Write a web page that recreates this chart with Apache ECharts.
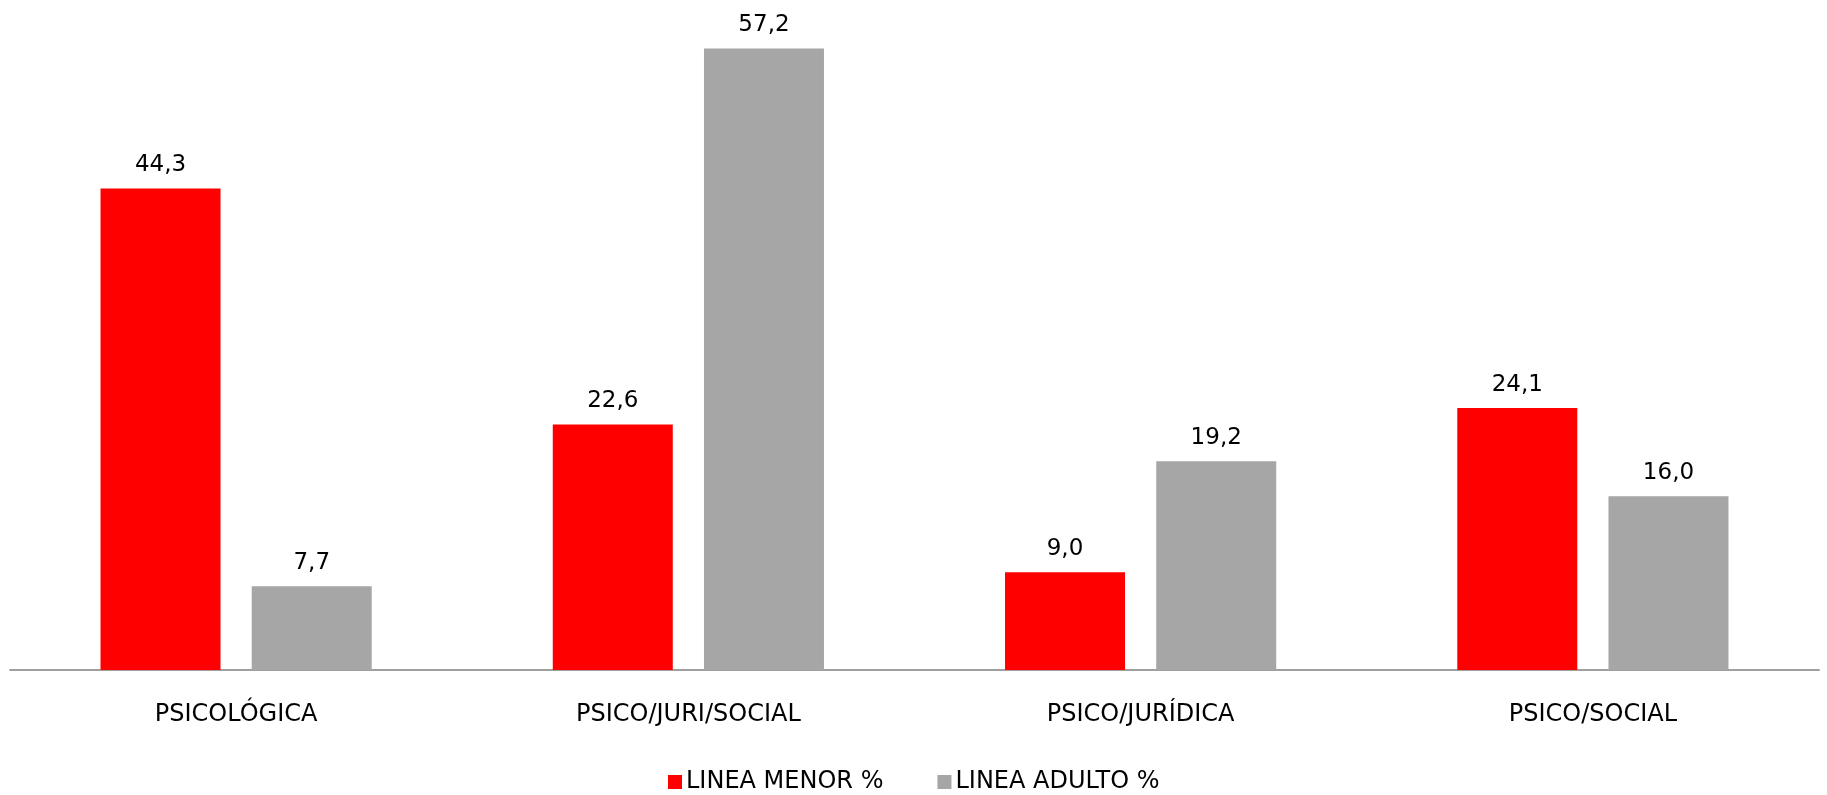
<!DOCTYPE html>
<html>
<head>
<meta charset="utf-8">
<script src="https://cdn.jsdelivr.net/npm/echarts@6/dist/echarts.min.js"></script>
<style>
html,body{margin:0;padding:0;background:#fff;}
#chart{width:1827px;height:795px;}
</style>
</head>
<body>
<div id="chart"></div>
<script>
const categories = ['PSICOLÓGICA', 'PSICO/JURI/SOCIAL', 'PSICO/JURÍDICA', 'PSICO/SOCIAL'];
const seriesNames = ['LINEA MENOR %', 'LINEA ADULTO %'];
const menorValues = [44.3, 22.6, 9.0, 24.1];
const adultoValues = [7.7, 57.2, 19.2, 16.0];

const FONT = 'DejaVu Sans';
const fmt = p => p.value.toFixed(1).replace('.', ',');

const chart = echarts.init(document.getElementById('chart'));
chart.setOption({
  animation: false,
  backgroundColor: '#ffffff',
  textStyle: { fontFamily: FONT },
  grid: { left: 10, right: 8, top: 18, bottom: 125, containLabel: false },
  legend: {
    bottom: 1,
    left: 668,
    padding: 0,
    itemWidth: 14,
    itemHeight: 14,
    itemGap: 54,
    icon: 'rect',
    textStyle: { fontFamily: FONT, fontSize: 24, color: '#000', padding: [0, 0, 0, -1] },
    data: seriesNames
  },
  xAxis: {
    type: 'category',
    data: categories,
    axisLine: { lineStyle: { color: '#a0a0a0', width: 2 } },
    axisTick: { show: false },
    axisLabel: { fontFamily: FONT, fontSize: 24, color: '#000', margin: 33 }
  },
  yAxis: {
    type: 'value',
    min: 0, max: 60, interval: 10,
    show: false,
    splitLine: { show: false }
  },
  series: [
    {
      name: seriesNames[0], type: 'bar', data: menorValues,
      barWidth: 120, barGap: '26%', barCategoryGap: '40%',
      itemStyle: { color: '#ff0000' },
      label: { show: true, position: 'top', distance: 12, formatter: fmt,
               fontFamily: FONT, fontSize: 23, color: '#000' }
    },
    {
      name: seriesNames[1], type: 'bar', data: adultoValues,
      barWidth: 120, barGap: '26%',
      itemStyle: { color: '#a6a6a6' },
      label: { show: true, position: 'top', distance: 12, formatter: fmt,
               fontFamily: FONT, fontSize: 23, color: '#000' }
    }
  ]
});
</script>
</body>
</html>
